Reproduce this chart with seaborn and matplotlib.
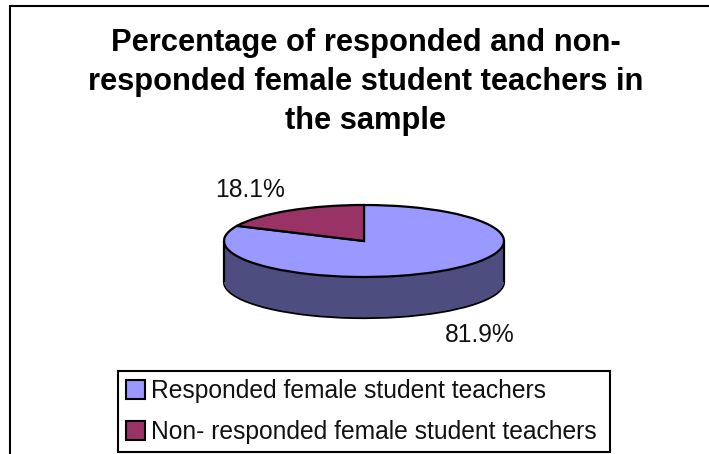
import matplotlib
matplotlib.use("Agg")
import matplotlib.pyplot as plt
from matplotlib.lines import Line2D
import seaborn as sns

title = "Percentage of responded and non-\nresponded female student teachers in\nthe sample"
categories = ["Responded female student teachers", "Non- responded female student teachers"]
values = [81.9, 18.1]
value_labels = ["81.9%", "18.1%"]
colors = ["#9999FF", "#993366"]
side_colors = ["#4D4D80", "#4D1A33"]

W, H = 709, 454
CX, CY, RX, RY, DEPTH = 364, 241, 140, 36, 41

sns.set_theme(style="white")
plt.rcParams['font.family'] = ['Liberation Sans', 'DejaVu Sans']

fig = plt.figure(figsize=(W / 100, H / 100), dpi=100)
# axes cover the whole figure, unit circle squashed into the ellipse
ax = fig.add_axes([0, 0, 1, 1])

# sides of the disc: the same pie stacked downwards
depth_units = DEPTH / RY
n_layers = 60
for i in range(n_layers, 0, -1):
    off = depth_units * i / n_layers
    edge = "black" if i == n_layers else "none"
    ax.pie(values, colors=side_colors, startangle=90, counterclock=False, center=(0, -off),
           wedgeprops={"edgecolor": edge, "linewidth": 1.6})
ax.vlines([-1, 1], -depth_units, 0, color="black", linewidth=1.6)

# top of the disc
ax.pie(values, colors=colors, startangle=90, counterclock=False,
       wedgeprops={"edgecolor": "black", "linewidth": 1.6})

ax.set_aspect("auto")
ax.set_xlim(-CX / RX, (W - CX) / RX)
ax.set_ylim((CY - H) / RY, CY / RY)

# labels
fig.text(480 / W, 1 - 335 / H, value_labels[0], fontsize=17.7, color="#111111", ha="center", va="center")
fig.text(250 / W, 1 - 190 / H, value_labels[1], fontsize=17.7, color="#111111", ha="center", va="center")

fig.text(365.5 / W, 1 - 82 / H, title, fontsize=22.2, fontweight="bold", color="black",
         ha="center", va="center", linespacing=1.37)

# chart frame, only left and top are visible in the picture
for xs, ys in [([10, 10], [6, H]), ([10, W], [6, 6])]:
    fig.add_artist(Line2D([x / W for x in xs], [1 - y / H for y in ys], color="black", linewidth=1.5))

handles = [plt.Rectangle((0, 0), 1, 1, facecolor=c, edgecolor="black", linewidth=1.5) for c in colors]
leg = fig.legend(handles, categories, loc="lower left", mode="expand",
                 bbox_to_anchor=(118 / W, 1 - 452 / H, 492 / W, 82 / H),
                 fontsize=17.7, fancybox=False, framealpha=1, edgecolor="black", borderaxespad=0,
                 handlelength=0.78, handleheight=0.78, handletextpad=0.25, labelspacing=0.68,
                 borderpad=0.33, labelcolor="#111111")
leg.get_frame().set_linewidth(1.5)

fig.savefig("out.png", dpi=100)
